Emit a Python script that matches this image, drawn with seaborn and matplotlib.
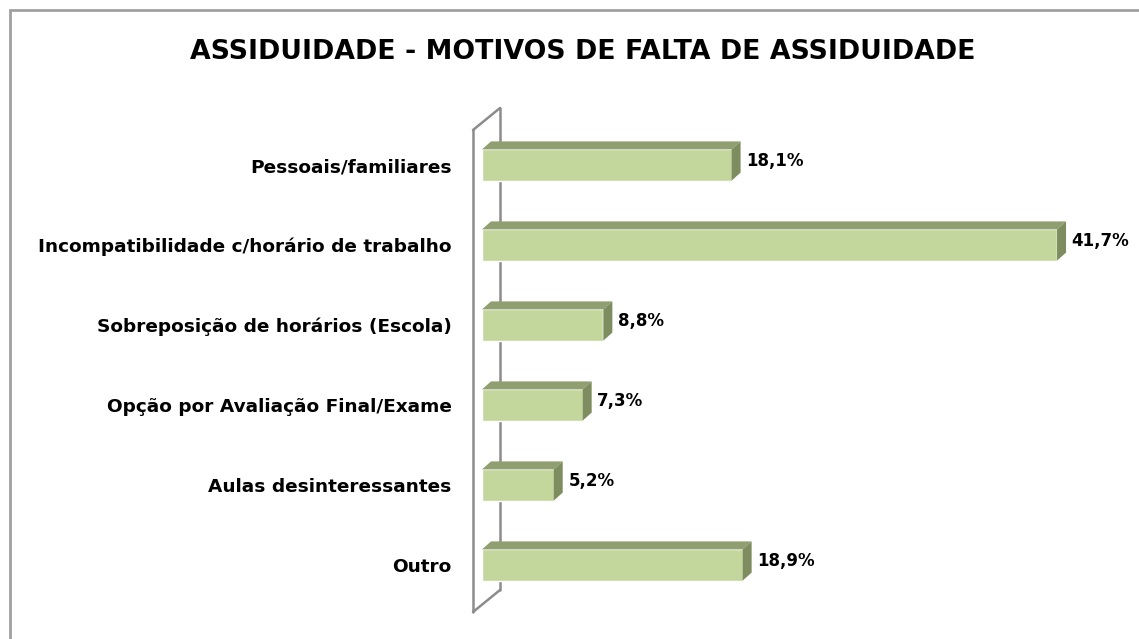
import seaborn as sns
import pandas as pd
import matplotlib.pyplot as plt
from matplotlib.patches import Polygon, Rectangle
from matplotlib.lines import Line2D

sns.set_theme(style='white')
plt.rcParams['font.family'] = ['DejaVu Sans']
plt.rcParams['text.color'] = 'black'
plt.rcParams['ytick.color'] = 'black'

categories = ['Pessoais/familiares', 'Incompatibilidade c/horário de trabalho',
              'Sobreposição de horários (Escola)', 'Opção por Avaliação Final/Exame',
              'Aulas desinteressantes', 'Outro']
values = [18.1, 41.7, 8.8, 7.3, 5.2, 18.9]

data = pd.DataFrame({'Motivo': categories, 'Percentagem': values})

front_col = '#C3D69B'
top_col = '#8F9F6F'
side_col = '#7E8D5F'

W, H = 1139, 639
fig = plt.figure(figsize=(W / 100, H / 100), dpi=100)
# axes placed in pixels: x=0 at 482 px, 13.79 px per %, 80 px per category
ax = fig.add_axes([482 / W, 1 - 605 / H, (1100 - 482) / W, 480 / H])
sns.barplot(data=data, x='Percentagem', y='Motivo', orient='h', color=front_col,
            width=0.39, saturation=1, ax=ax, zorder=3)
ax.set_xlim(0, (1100 - 482) / 13.79)
ax.set_ylim(5.5, -0.5)

dx, dy = 9 / 13.79, 8 / 80
for p in ax.patches:
    x0, y0 = p.get_x(), p.get_y()
    w, h = p.get_width(), p.get_height()
    top = y0  # inverted y: smaller is higher
    ax.add_patch(Polygon([(x0, top), (x0 + dx, top - dy), (x0 + w + dx, top - dy), (x0 + w, top)],
                         closed=True, facecolor=top_col, edgecolor='none', zorder=3))
    ax.add_patch(Polygon([(x0 + w, top), (x0 + w + dx, top - dy), (x0 + w + dx, top + h - dy), (x0 + w, top + h)],
                         closed=True, facecolor=side_col, edgecolor='none', zorder=3))
    txt = f'{w:.1f}'.replace('.', ',') + '%'
    ax.annotate(txt, (x0 + w + dx, y0 + h / 2 - dy / 2), xytext=(4, 0), textcoords='offset points',
                ha='left', va='center', fontsize=12, fontweight='bold', color='black')

# left wall
wall_kw = dict(color='#8C8C8C', lw=1.8, clip_on=False, zorder=1)
fx, bx = (473 - 482) / 13.79, (500 - 482) / 13.79
def py(v):
    return (v - 125) / 80 - 0.5
ax.add_line(Line2D([bx, bx], [py(108), py(590)], **wall_kw))
ax.add_line(Line2D([fx, fx], [py(130), py(612)], **wall_kw))
ax.add_line(Line2D([fx, bx], [py(130), py(108)], **wall_kw))
ax.add_line(Line2D([fx, bx], [py(612), py(590)], **wall_kw))

ax.set_xlabel('')
ax.set_ylabel('')
ax.set_xticks([])
for s in ax.spines.values():
    s.set_visible(False)
ax.tick_params(axis='y', length=0, pad=22)
for lbl in ax.get_yticklabels():
    lbl.set_fontsize(13.3)
    lbl.set_fontweight('bold')
    lbl.set_color('black')
ax.patch.set_alpha(0)

fig.text(583 / W, 1 - 52 / H, 'ASSIDUIDADE - MOTIVOS DE FALTA DE ASSIDUIDADE',
         ha='center', va='center', fontsize=19.3, fontweight='bold', color='black')

fig.patches.append(Rectangle((10 / W, -0.1), 1.2, 1 - 10 / H + 0.1, transform=fig.transFigure,
                             fill=False, edgecolor='#A0A0A0', lw=2))

fig.savefig('out.png', dpi=100)
